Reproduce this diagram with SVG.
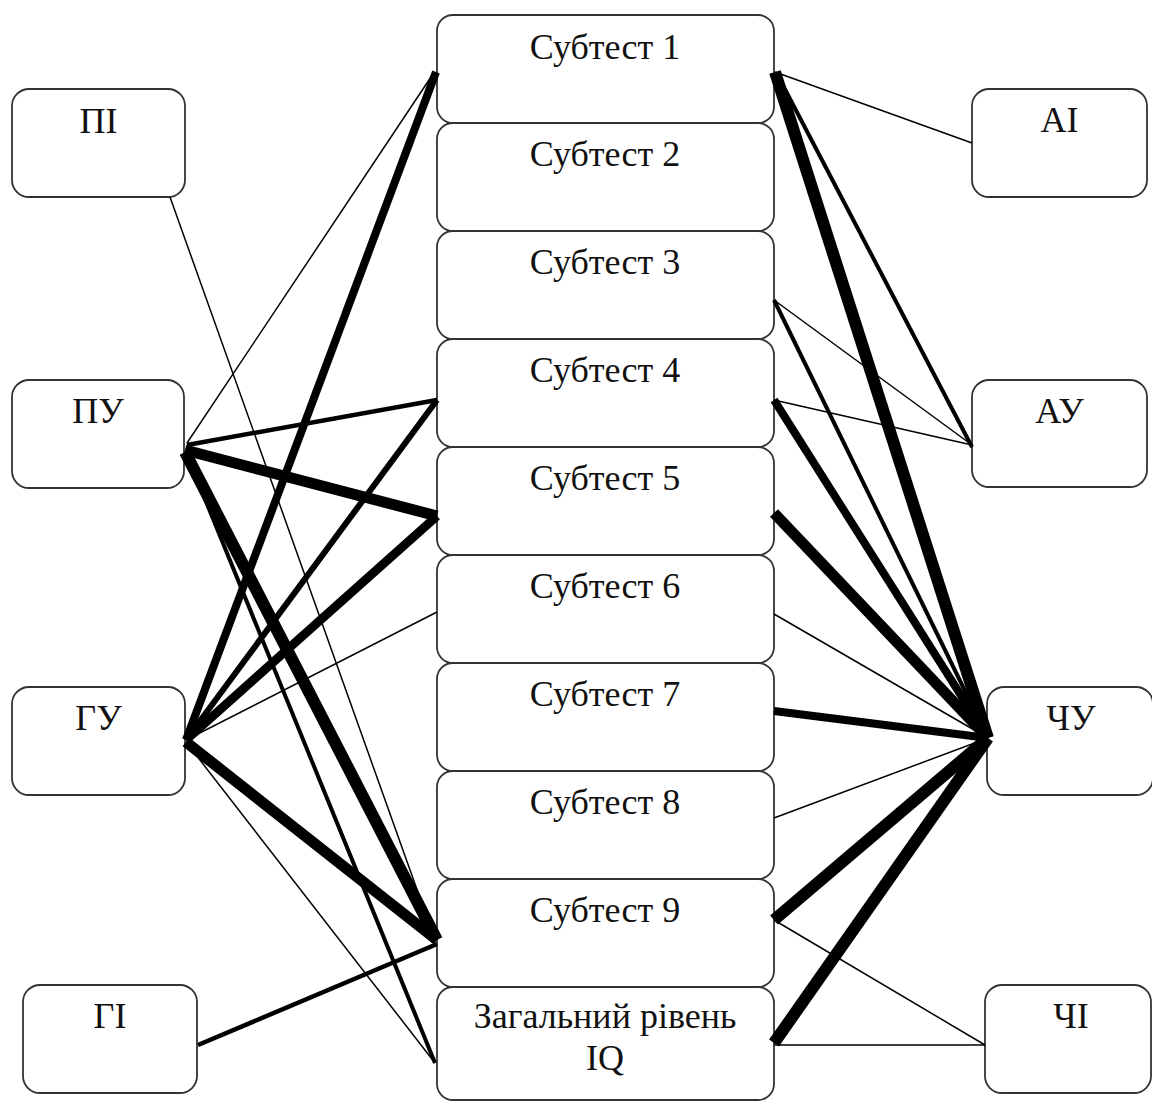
<svg xmlns="http://www.w3.org/2000/svg" width="1152" height="1104" viewBox="0 0 1152 1104">
<style>
.box{fill:#fff;stroke:#333;stroke-width:1.8}
.t{font-family:"Liberation Serif","Times New Roman",serif;font-size:36px;fill:#111;text-anchor:middle}
.c line{stroke:#000;stroke-linecap:butt}
</style>
<rect width="1152" height="1104" fill="#fff"/>
<g id="nodes-left">
<g id="PI"><rect class="box" x="12" y="89" width="173" height="108" rx="17"/><text class="t" x="98.5" y="133">ПІ</text></g>
<g id="PU"><rect class="box" x="12" y="380" width="172" height="108" rx="17"/><text class="t" x="98" y="423">ПУ</text></g>
<g id="GU"><rect class="box" x="12" y="687" width="173" height="108" rx="17"/><text class="t" x="98.5" y="730">ГУ</text></g>
<g id="GI"><rect class="box" x="23" y="985" width="174" height="108" rx="17"/><text class="t" x="110" y="1028">ГІ</text></g>
</g>
<g id="nodes-mid">
<g id="S1"><rect class="box" x="437" y="15" width="337" height="108" rx="16"/><text class="t" x="605" y="59">Субтест 1</text></g>
<g id="S2"><rect class="box" x="437" y="123" width="337" height="108" rx="16"/><text class="t" x="605" y="166">Субтест 2</text></g>
<g id="S3"><rect class="box" x="437" y="231" width="337" height="108" rx="16"/><text class="t" x="605" y="274">Субтест 3</text></g>
<g id="S4"><rect class="box" x="437" y="339" width="337" height="108" rx="16"/><text class="t" x="605" y="382">Субтест 4</text></g>
<g id="S5"><rect class="box" x="437" y="447" width="337" height="108" rx="16"/><text class="t" x="605" y="490">Субтест 5</text></g>
<g id="S6"><rect class="box" x="437" y="555" width="337" height="108" rx="16"/><text class="t" x="605" y="598">Субтест 6</text></g>
<g id="S7"><rect class="box" x="437" y="663" width="337" height="108" rx="16"/><text class="t" x="605" y="706">Субтест 7</text></g>
<g id="S8"><rect class="box" x="437" y="771" width="337" height="108" rx="16"/><text class="t" x="605" y="814">Субтест 8</text></g>
<g id="S9"><rect class="box" x="437" y="879" width="337" height="108" rx="16"/><text class="t" x="605" y="922">Субтест 9</text></g>
<g id="IQ"><rect class="box" x="437" y="987" width="337" height="113" rx="16"/><text class="t" x="605" y="1028">Загальний рівень</text><text class="t" x="605" y="1070">IQ</text></g>
</g>
<g id="nodes-right">
<g id="AI"><rect class="box" x="972" y="89" width="175" height="108" rx="17"/><text class="t" x="1059.5" y="132">АІ</text></g>
<g id="AU"><rect class="box" x="972" y="380" width="175" height="107" rx="17"/><text class="t" x="1059.5" y="423">АУ</text></g>
<g id="CHU"><rect class="box" x="987" y="687" width="166" height="108" rx="17"/><text class="t" x="1071" y="730">ЧУ</text></g>
<g id="CHI"><rect class="box" x="985" y="985" width="166" height="108" rx="17"/><text class="t" x="1071" y="1028">ЧІ</text></g>
</g>
<g id="connectors" class="c">
<line x1="170" y1="197" x2="435" y2="940" stroke-width="1.5"/>
<line x1="187" y1="443" x2="433" y2="74" stroke-width="1.5"/>
<line x1="187" y1="445" x2="437" y2="400" stroke-width="4.5"/>
<line x1="185" y1="450" x2="437" y2="516" stroke-width="11"/>
<line x1="185" y1="452" x2="437" y2="940" stroke-width="12"/>
<line x1="187" y1="455" x2="435" y2="1063" stroke-width="4"/>
<line x1="186" y1="740" x2="436" y2="72" stroke-width="8"/>
<line x1="186" y1="740" x2="437" y2="400" stroke-width="6"/>
<line x1="186" y1="740" x2="437" y2="516" stroke-width="9"/>
<line x1="186" y1="740" x2="437" y2="612" stroke-width="1.5"/>
<line x1="186" y1="742" x2="437" y2="940" stroke-width="11"/>
<line x1="186" y1="742" x2="435" y2="1063" stroke-width="1.5"/>
<line x1="198" y1="1045" x2="437" y2="944" stroke-width="4.5"/>
<line x1="775" y1="72" x2="972" y2="143" stroke-width="1.5"/>
<line x1="775" y1="72" x2="988" y2="738" stroke-width="12"/>
<line x1="777" y1="74" x2="972" y2="447" stroke-width="4"/>
<line x1="774" y1="300" x2="972" y2="445" stroke-width="1.5"/>
<line x1="774" y1="300" x2="988" y2="738" stroke-width="4"/>
<line x1="774" y1="400" x2="972" y2="445" stroke-width="1.5"/>
<line x1="774" y1="400" x2="988" y2="738" stroke-width="8"/>
<line x1="774" y1="513" x2="988" y2="738" stroke-width="11"/>
<line x1="774" y1="614" x2="988" y2="738" stroke-width="1.5"/>
<line x1="774" y1="711" x2="988" y2="738" stroke-width="8"/>
<line x1="774" y1="818" x2="988" y2="738" stroke-width="1.5"/>
<line x1="774" y1="920" x2="988" y2="738" stroke-width="12"/>
<line x1="774" y1="920" x2="985" y2="1045" stroke-width="1.5"/>
<line x1="774" y1="1043" x2="988" y2="738" stroke-width="12"/>
<line x1="774" y1="1045" x2="985" y2="1045" stroke-width="1.5"/>
</g>
</svg>
